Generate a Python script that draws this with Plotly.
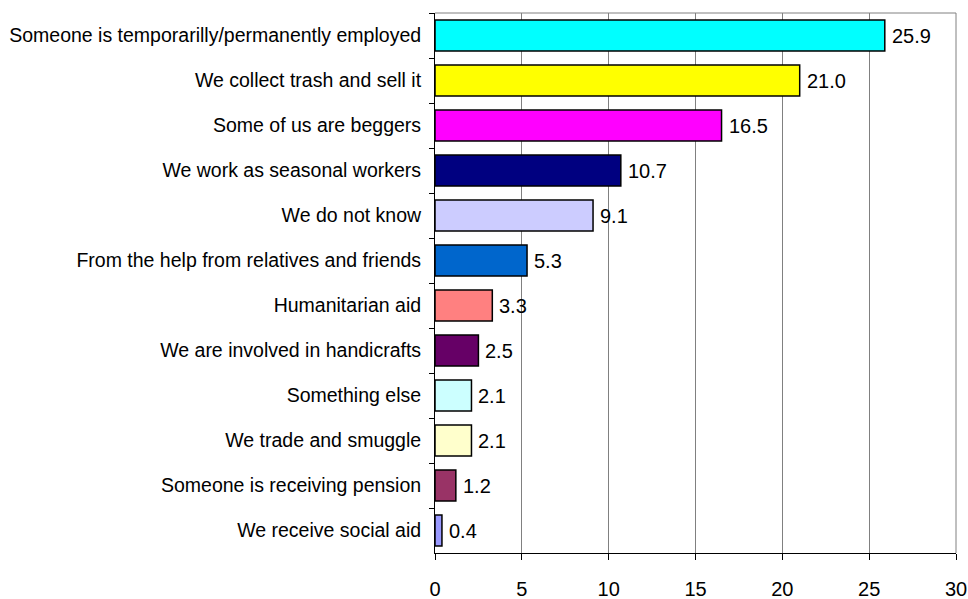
import plotly.graph_objects as go

# Sources of household income (share of respondents, %)
categories = [
    "Someone is temporarilly/permanently employed",
    "We collect trash and sell it",
    "Some of us are beggers",
    "We work as seasonal workers",
    "We do not know",
    "From the help from relatives and friends",
    "Humanitarian aid",
    "We are involved in handicrafts",
    "Something else",
    "We trade and smuggle",
    "Someone is receiving pension",
    "We receive social aid",
]
values = [25.9, 21.0, 16.5, 10.7, 9.1, 5.3, 3.3, 2.5, 2.1, 2.1, 1.2, 0.4]
bar_colors = [
    "#00FFFF", "#FFFF00", "#FF00FF", "#000080", "#CCCCFF", "#0066CC",
    "#FF8080", "#660066", "#CCFFFF", "#FFFFCC", "#993366", "#9999FF",
]
x_ticks = [0, 5, 10, 15, 20, 25, 30]

FONT = "Liberation Sans, Arial, sans-serif"

fig = go.Figure(
    go.Bar(
        x=values,
        y=categories,
        orientation="h",
        marker=dict(color=bar_colors, line=dict(color="black", width=1.5)),
        hoverinfo="skip",
    )
)

# value labels just past the end of each bar
for cat, val in zip(categories, values):
    fig.add_annotation(
        x=val, y=cat, xref="x", yref="y",
        text=f"{val:.1f}",
        showarrow=False,
        xanchor="left",
        xshift=5,
        font=dict(family=FONT, size=20, color="black"),
    )

fig.update_layout(
    width=968,
    height=599,
    margin=dict(l=435, r=12, t=13, b=46),
    paper_bgcolor="white",
    plot_bgcolor="white",
    bargap=0.31,
    showlegend=False,
    font=dict(family=FONT, color="black"),
    shapes=[
        # grey frame on the top and right of the plot area
        dict(type="line", xref="paper", yref="paper", x0=0, x1=1, y0=1, y1=1,
             line=dict(color="#808080", width=1)),
        dict(type="line", xref="paper", yref="paper", x0=1, x1=1, y0=0, y1=1,
             line=dict(color="#808080", width=1)),
    ],
)

fig.update_xaxes(
    range=[0, 30],
    tickvals=x_ticks,
    ticktext=[str(t) for t in x_ticks],
    automargin=False,
    showgrid=True,
    gridcolor="#808080",
    gridwidth=1,
    zeroline=False,
    showline=True,
    linecolor="black",
    linewidth=1,
    ticks="outside",
    ticklen=6,
    tickcolor="black",
    ticklabelstandoff=12,
    tickfont=dict(family=FONT, size=20, color="black"),
)

fig.update_yaxes(
    autorange="reversed",
    automargin=False,
    showgrid=False,
    showline=True,
    linecolor="black",
    linewidth=1,
    ticks="outside",
    tickson="boundaries",
    ticklen=5,
    tickcolor="black",
    ticklabelstandoff=9,
    tickfont=dict(family=FONT, size=19.5, color="black"),
)

fig.write_html("out.html")
